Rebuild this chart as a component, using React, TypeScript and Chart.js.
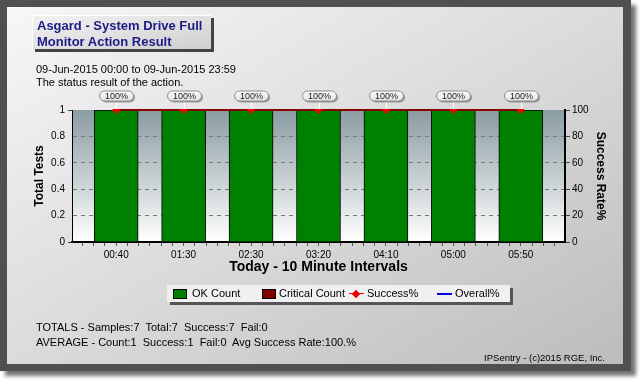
import React, { useEffect, useRef } from 'react';
import { Chart, registerables } from 'chart.js';

Chart.register(...registerables);

const FONT = "Arial, 'Liberation Sans', Helvetica, sans-serif";

// ---- data ----
const timeLabels = ['00:40', '01:30', '02:30', '03:20', '04:10', '05:00', '05:50'];
const okCounts = [1, 1, 1, 1, 1, 1, 1];
const criticalCounts = [0, 0, 0, 0, 0, 0, 0];
const successRates = [100, 100, 100, 100, 100, 100, 100];
const overallRates = [100, 100, 100, 100, 100, 100, 100];

const titleLines = ['Asgard - System Drive Full', 'Monitor Action Result'];
const subtitleLines = ['09-Jun-2015 00:00 to 09-Jun-2015 23:59', 'The status result of the action.'];
const totalsLines = [
  'TOTALS - Samples:7  Total:7  Success:7  Fail:0',
  'AVERAGE - Count:1  Success:1  Fail:0  Avg Success Rate:100.%',
];
const copyright = 'IPSentry - (c)2015 RGE, Inc.';

const isEdgeTick = (ctx: any) =>
  ctx && ctx.tick && (Math.abs(ctx.tick.value) < 1e-9 || Math.abs(ctx.tick.value - 1) < 1e-9);

export default function App() {
  const ref = useRef<HTMLCanvasElement>(null);

  useEffect(() => {
    const bgPlugin = {
      id: 'plotBg',
      beforeDraw(chart: any) {
        const { ctx, chartArea: a } = chart;
        const g = ctx.createLinearGradient(0, a.top, 0, a.bottom);
        g.addColorStop(0, '#8a9ca2');
        g.addColorStop(1, '#ffffff');
        ctx.save();
        ctx.fillStyle = g;
        ctx.fillRect(a.left, a.top, a.right - a.left, a.bottom - a.top);
        ctx.restore();
      },
    };

    const pill = (ctx: CanvasRenderingContext2D, x: number, y: number, w: number, h: number) => {
      const r = h / 2;
      ctx.beginPath();
      ctx.moveTo(x + r, y);
      ctx.lineTo(x + w - r, y);
      ctx.arc(x + w - r, y + r, r, -Math.PI / 2, Math.PI / 2);
      ctx.lineTo(x + r, y + h);
      ctx.arc(x + r, y + r, r, Math.PI / 2, (3 * Math.PI) / 2);
      ctx.closePath();
    };

    const labelPlugin = {
      id: 'rateLabels',
      afterDraw(chart: any) {
        const meta = chart.getDatasetMeta(2);
        const ctx = chart.ctx as CanvasRenderingContext2D;
        ctx.save();
        meta.data.forEach((pt: any, i: number) => {
          const x = Math.round(pt.x) + 0.5;
          const w = 34;
          const h = 10;
          const bx = x - w / 2;
          const by = pt.y - 19;
          ctx.strokeStyle = '#ffffff';
          ctx.lineWidth = 1;
          ctx.beginPath();
          ctx.moveTo(x, by + h);
          ctx.lineTo(x, pt.y - 1);
          ctx.stroke();
          ctx.fillStyle = 'rgba(90,90,90,0.55)';
          pill(ctx, bx + 1.5, by + 1.5, w, h);
          ctx.fill();
          const g = ctx.createLinearGradient(0, by, 0, by + h);
          g.addColorStop(0, '#fbfbfb');
          g.addColorStop(1, '#e2e2e2');
          ctx.fillStyle = g;
          pill(ctx, bx, by, w, h);
          ctx.fill();
          ctx.strokeStyle = '#8c8c8c';
          ctx.lineWidth = 1;
          ctx.stroke();
          ctx.fillStyle = '#1a1a1a';
          ctx.font = `9px ${FONT}`;
          ctx.textAlign = 'center';
          ctx.textBaseline = 'middle';
          ctx.fillText(`${successRates[i]}%`, x, by + h / 2 + 0.5);
        });
        ctx.restore();
      },
    };

    const toXY = (arr: number[]) => arr.map((v, i) => ({ x: i, y: v }));

    const chart = new Chart(ref.current as HTMLCanvasElement, {
      type: 'bar',
      data: {
        datasets: [
          {
            type: 'bar',
            label: 'OK Count',
            data: toXY(okCounts),
            backgroundColor: '#008000',
            borderColor: '#000000',
            borderWidth: 1,
            barThickness: 44,
            yAxisID: 'y',
            stack: 'counts',
            order: 2,
          },
          {
            type: 'bar',
            label: 'Critical Count',
            data: toXY(criticalCounts),
            backgroundColor: '#800000',
            borderColor: '#000000',
            borderWidth: 0,
            barThickness: 44,
            yAxisID: 'y',
            stack: 'counts',
            order: 2,
          },
          {
            type: 'line',
            label: 'Success%',
            data: toXY(successRates),
            yAxisID: 'y1',
            borderColor: '#880000',
            borderWidth: 2,
            pointStyle: 'rectRot',
            pointRadius: 4,
            pointBackgroundColor: '#ee0000',
            pointBorderColor: '#ee0000',
            pointBorderWidth: 0,
            clip: { left: 0, top: 1, right: 0, bottom: 0 },
            order: 0,
          },
          {
            type: 'line',
            label: 'Overall%',
            data: toXY(overallRates),
            yAxisID: 'y1',
            borderColor: '#0000cc',
            borderWidth: 2,
            pointRadius: 0,
            clip: { left: 0, top: 1, right: 0, bottom: 0 },
            order: 1,
          },
        ] as any,
      },
      options: {
        responsive: false,
        animation: false,
        layout: { padding: { left: 32, right: 32, top: 110, bottom: 104 } },
        plugins: {
          legend: { display: false },
          tooltip: { enabled: false },
          title: { display: false },
        },
        scales: {
          x: {
            type: 'linear',
            min: -0.655,
            max: 6.655,
            offset: false,
            stacked: true,
            afterBuildTicks: (s: any) => {
              const t: any[] = [];
              for (let k = -3; k <= 39; k++) t.push({ value: k / 6 });
              s.ticks = t;
            },
            afterFit: (s: any) => {
              s.height = 34;
            },
            ticks: {
              autoSkip: false,
              maxRotation: 0,
              minRotation: 0,
              padding: 3,
              color: '#000',
              font: { family: FONT, size: 10 },
              callback: (v: any) => {
                const n = Number(v);
                const r = Math.round(n);
                return Math.abs(n - r) < 1e-6 && timeLabels[r] ? timeLabels[r] : '';
              },
            },
            grid: { offset: false, drawOnChartArea: false, tickLength: 4, tickColor: '#555' },
            border: { color: '#000', width: 2 },
            title: {
              display: true,
              text: 'Today - 10 Minute Intervals',
              color: '#000',
              padding: 0,
              font: { family: FONT, size: 14, weight: 'bold' },
            },
          },
          y: {
            type: 'linear',
            position: 'left',
            min: 0,
            max: 1,
            stacked: true,
            afterFit: (s: any) => {
              s.width = 40;
            },
            ticks: {
              stepSize: 0.2,
              padding: 3,
              color: '#000',
              font: { family: FONT, size: 10 },
              callback: (v: any) => String(Math.round(Number(v) * 10) / 10),
            },
            grid: {
              color: (ctx: any) => (isEdgeTick(ctx) ? 'rgba(0,0,0,0)' : '#7a7a7a'),
              tickColor: (ctx: any) => (isEdgeTick(ctx) ? '#444' : 'rgba(0,0,0,0)'),
              tickLength: 4,
              lineWidth: 1,
            },
            border: { color: '#000', width: 1, dash: [4, 4] },
            title: {
              display: true,
              text: 'Total Tests',
              color: '#000',
              padding: 0,
              font: { family: FONT, size: 12, weight: 'bold' },
            },
          },
          y1: {
            type: 'linear',
            position: 'right',
            min: 0,
            max: 100,
            afterFit: (s: any) => {
              s.width = 43;
            },
            ticks: {
              stepSize: 20,
              padding: 2,
              color: '#000',
              font: { family: FONT, size: 10 },
            },
            grid: { drawOnChartArea: false, tickLength: 5, tickColor: '#444' },
            border: { color: '#000', width: 2 },
            title: {
              display: true,
              text: 'Success Rate%',
              color: '#000',
              padding: 0,
              font: { family: FONT, size: 12, weight: 'bold' },
            },
          },
        },
      } as any,
      plugins: [bgPlugin, labelPlugin],
    });
    return () => chart.destroy();
  }, []);

  const abs = (o: React.CSSProperties): React.CSSProperties => ({ position: 'absolute', ...o });
  const textBase: React.CSSProperties = { fontFamily: FONT, color: '#000', whiteSpace: 'pre' };

  return (
    <div style={abs({ left: 0, top: 0, width: 640, height: 380, background: '#ffffff', overflow: 'hidden' })}>
      <div style={abs({ left: 0, top: 0, width: 631, height: 371, background: '#505050', boxShadow: '5px 5px 4px rgba(0,0,0,0.55)' })} />
      <div
        style={abs({
          left: 7,
          top: 7,
          width: 616,
          height: 357,
          background: 'linear-gradient(to bottom right, #f8f6f8 0%, #dcdbdc 50%, #bcbcbc 100%)',
        })}
      />
      <canvas ref={ref} width={640} height={380} style={abs({ left: 0, top: 0, width: 640, height: 380 })} />

      {/* title box */}
      <div
        style={abs({
          left: 32,
          top: 15,
          width: 179,
          height: 34,
          boxSizing: 'border-box',
          padding: '2px 0 0 4px',
          background: 'linear-gradient(to bottom right, #f2f2f2, #cfcfcf)',
          borderTop: '1px solid #ffffff',
          borderLeft: '1px solid #ffffff',
          boxShadow: '3px 3px 0 #444444',
          fontFamily: FONT,
          fontWeight: 'bold',
          fontSize: 13,
          lineHeight: '16px',
          color: '#1c1c86',
          whiteSpace: 'pre',
        })}
      >
        {titleLines.map((l) => (
          <div key={l}>{l}</div>
        ))}
      </div>

      {/* subtitle */}
      <div style={abs({ ...textBase, left: 36, top: 63, fontSize: 11, lineHeight: '13px' })}>
        {subtitleLines.map((l) => (
          <div key={l}>{l}</div>
        ))}
      </div>

      {/* legend */}
      <div
        style={abs({
          left: 167,
          top: 285,
          width: 343,
          height: 17,
          background: '#f0f0f0',
          boxShadow: '3px 3px 0 #555555',
          fontFamily: FONT,
          fontSize: 11,
          lineHeight: '17px',
          color: '#000',
          whiteSpace: 'pre',
        })}
      >
        <div style={abs({ left: 6, top: 4, width: 14, height: 10, boxSizing: 'border-box', background: '#008000', border: '1px solid #000' })} />
        <div style={abs({ left: 25, top: 0 })}>OK Count</div>
        <div style={abs({ left: 95, top: 4, width: 14, height: 10, boxSizing: 'border-box', background: '#800000', border: '1px solid #000' })} />
        <div style={abs({ left: 112, top: 0 })}>Critical Count</div>
        <div style={abs({ left: 182, top: 8, width: 15, height: 1, background: '#ee0000' })} />
        <div style={abs({ left: 186, top: 5.5, width: 6, height: 6, background: '#ee0000', transform: 'rotate(45deg)' })} />
        <div style={abs({ left: 200, top: 0 })}>Success%</div>
        <div style={abs({ left: 270, top: 8, width: 15, height: 2, background: '#0000dd' })} />
        <div style={abs({ left: 288, top: 0 })}>Overall%</div>
      </div>

      {/* totals */}
      <div style={abs({ ...textBase, left: 36, top: 320, fontSize: 11, lineHeight: '15px' })}>
        {totalsLines.map((l) => (
          <div key={l}>{l}</div>
        ))}
      </div>

      {/* copyright */}
      <div style={abs({ ...textBase, right: 35, top: 351, fontSize: 9.5, lineHeight: '13px' })}>{copyright}</div>
    </div>
  );
}
